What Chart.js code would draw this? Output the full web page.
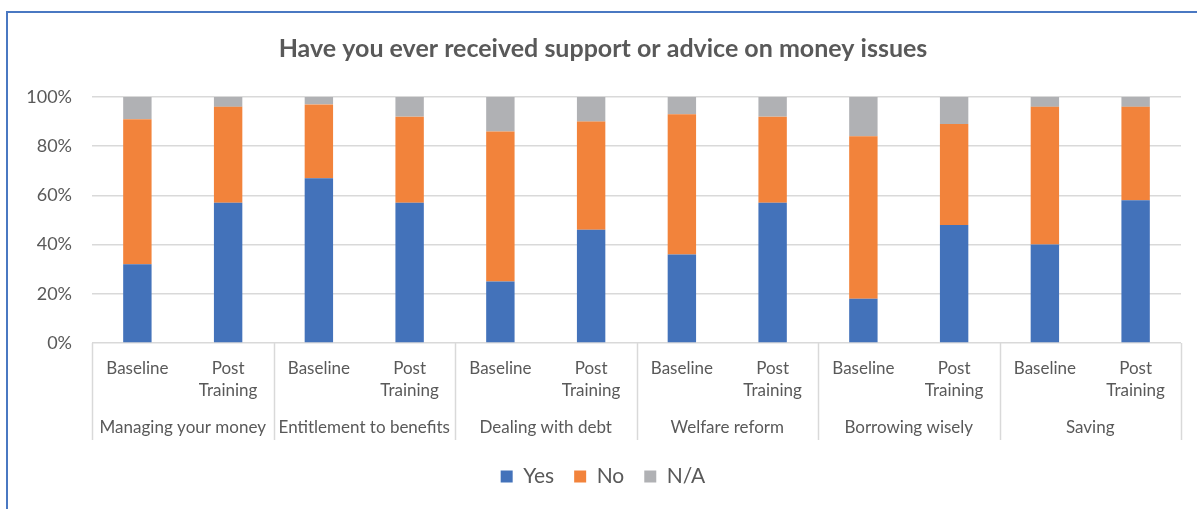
<!DOCTYPE html>
<html lang="en">
<head>
    <meta charset="UTF-8">
    <title>Have you ever received support or advice on money issues</title>
    <style>
        html, body {
            margin: 0;
            padding: 0;
            background: #ffffff;
            overflow: hidden;
        }
        .chart-wrap {
            position: relative;
            width: 1197px;
            height: 509px;
        }
        .frame {
            position: absolute;
            left: 6px;
            top: 11px;
            width: 1400px;
            height: 700px;
            border-top: 2px solid #4a78c2;
            border-left: 2px solid #4a78c2;
            pointer-events: none;
        }
    </style>
</head>
<body>
    <div class="chart-wrap">
        <canvas id="supportChart"></canvas>
        <div class="frame"></div>
    </div>

    <script src="https://cdn.jsdelivr.net/npm/chart.js@4.4.3/dist/chart.umd.min.js"></script>
    <script>
        // Topics, each asked before and after the training
        const topics = ['Managing your money', 'Entitlement to benefits', 'Dealing with debt',
                        'Welfare reform', 'Borrowing wisely', 'Saving'];
        const stages = [['Baseline'], ['Post', 'Training']];

        // Share of answers (%), two bars per topic: Baseline, Post Training
        const yesValues = [32, 57, 67, 57, 25, 46, 36, 57, 18, 48, 40, 58];
        const noValues  = [59, 39, 30, 35, 61, 44, 57, 35, 66, 41, 56, 38];
        const naValues  = [9, 4, 3, 8, 14, 10, 7, 8, 16, 11, 4, 4];

        const yTicks = [0, 20, 40, 60, 80, 100];

        const barLabels = [];
        topics.forEach(() => stages.forEach(s => barLabels.push(s)));

        const textColor = '#595959';
        const gridColor = '#d9d9d9';
        const fontFamily = 'Lato, "Liberation Sans", sans-serif';

        // Vertical separators between topic groups under the axis
        const groupLines = {
            id: 'groupLines',
            afterDraw(chart) {
                const ctx = chart.ctx;
                const area = chart.chartArea;
                const xs = chart.scales.x;
                const edges = [area.left];
                for (let i = 1; i < topics.length; i++) {
                    const a = xs.getPixelForValue(i * 2 - 1);
                    const b = xs.getPixelForValue(i * 2);
                    edges.push((a + b) / 2);
                }
                edges.push(area.right);
                ctx.save();
                ctx.strokeStyle = gridColor;
                ctx.lineWidth = 1.5;
                edges.forEach(x => {
                    ctx.beginPath();
                    ctx.moveTo(Math.round(x) + 0.5, area.bottom);
                    ctx.lineTo(Math.round(x) + 0.5, area.bottom + 97);
                    ctx.stroke();
                });
                ctx.restore();
            }
        };

        new Chart(document.getElementById('supportChart'), {
            type: 'bar',
            data: {
                labels: barLabels,
                datasets: [
                    { label: 'Yes', data: yesValues, backgroundColor: '#4372ba' },
                    { label: 'No', data: noValues, backgroundColor: '#f2833b' },
                    { label: 'N/A', data: naValues, backgroundColor: '#b0b1b4' }
                ]
            },
            options: {
                responsive: true,
                maintainAspectRatio: false,
                animation: false,
                categoryPercentage: 1,
                barPercentage: 0.313,
                layout: {
                    padding: { left: 25, right: 16, top: 0, bottom: 12 }
                },
                plugins: {
                    title: {
                        display: true,
                        text: 'Have you ever received support or advice on money issues',
                        color: textColor,
                        font: { family: fontFamily, size: 25, weight: 'bold' },
                        padding: { top: 34, bottom: 33 }
                    },
                    legend: {
                        position: 'bottom',
                        labels: {
                            color: textColor,
                            font: { family: fontFamily, size: 21 },
                            boxWidth: 12,
                            boxHeight: 12,
                            padding: 20
                        }
                    },
                    tooltip: { enabled: false }
                },
                scales: {
                    x: {
                        stacked: true,
                        grid: { display: false, drawTicks: false },
                        border: { display: false },
                        ticks: {
                            color: textColor,
                            font: { family: fontFamily, size: 17, lineHeight: 1.3 },
                            padding: 14,
                            maxRotation: 0,
                            autoSkip: false
                        },
                        afterFit(scale) { scale.height = 56; }
                    },
                    x2: {
                        type: 'category',
                        labels: topics,
                        position: 'bottom',
                        offset: true,
                        grid: { display: false, drawTicks: false },
                        border: { display: false },
                        ticks: {
                            color: textColor,
                            font: { family: fontFamily, size: 17 },
                            padding: 18,
                            maxRotation: 0,
                            autoSkip: false
                        },
                        afterFit(scale) { scale.height = 47; }
                    },
                    y: {
                        stacked: true,
                        min: 0,
                        max: 100,
                        grid: { color: gridColor, lineWidth: 1.5, drawTicks: false },
                        border: { display: false },
                        afterBuildTicks(scale) {
                            scale.ticks = yTicks.map(v => ({ value: v }));
                        },
                        ticks: {
                            color: textColor,
                            font: { family: fontFamily, size: 18 },
                            padding: 20,
                            callback: v => v + '%'
                        },
                        afterFit(scale) { scale.width = 67; }
                    }
                }
            },
            plugins: [groupLines]
        });
    </script>
</body>
</html>
